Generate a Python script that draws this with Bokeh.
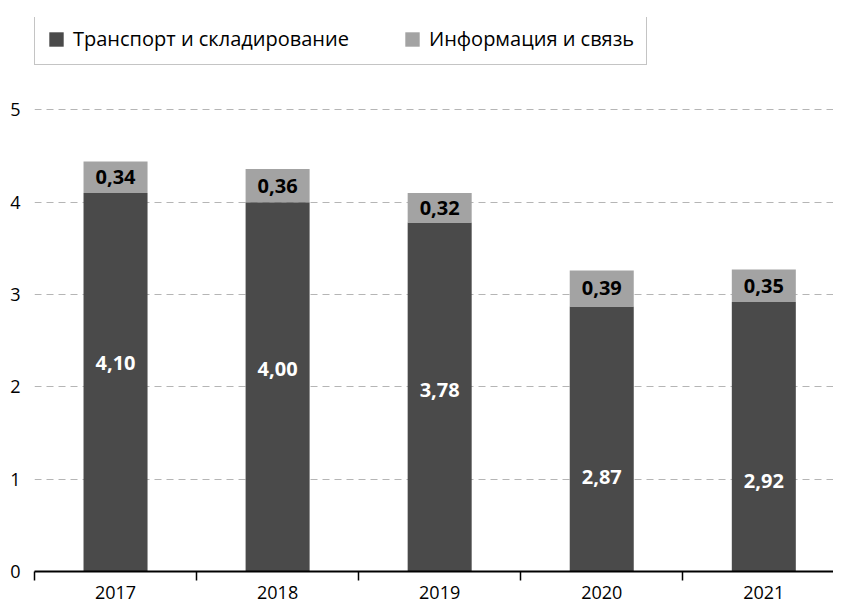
from bokeh.plotting import figure
from bokeh.models import ColumnDataSource, FixedTicker, Legend, LegendItem, Range1d
from bokeh.core.properties import value
from bokeh.embed import file_html
from bokeh.resources import INLINE

years = ["2017", "2018", "2019", "2020", "2021"]
transport = [4.10, 4.00, 3.78, 2.87, 2.92]
info = [0.34, 0.36, 0.32, 0.39, 0.35]
transport_labels = ["4,10", "4,00", "3,78", "2,87", "2,92"]
info_labels = ["0,34", "0,36", "0,32", "0,39", "0,35"]
# vertical placement of the labels inside the dark bars (data units)
transport_label_y = [2.26, 2.19, 1.97, 1.02, 0.98]

FONT = "Open Sans"
DARK = "#4a4a4a"
LIGHT = "#a3a3a3"

xs = list(range(1, len(years) + 1))
info_top = [t + i for t, i in zip(transport, info)]
info_mid = [t + i / 2 for t, i in zip(transport, info)]

src = ColumnDataSource(dict(
    x=xs, transport=transport, info_top=info_top, info_mid=info_mid,
    tl=transport_labels, il=info_labels, tly=transport_label_y,
))

p = figure(width=833, height=605, output_backend="svg", toolbar_location=None,
           x_range=Range1d(0.5, 5.43), y_range=Range1d(0, 6.0))
p.min_border_left = 34
p.min_border_right = 0
p.min_border_top = 17
p.min_border_bottom = 34
p.outline_line_color = None
p.background_fill_color = "white"

r1 = p.vbar(x="x", top="transport", bottom=0, width=0.395, source=src,
            fill_color=DARK, line_color=None)
r2 = p.vbar(x="x", top="info_top", bottom="transport", width=0.395, source=src,
            fill_color=LIGHT, line_color=None)

p.text(x="x", y="tly", text="tl", source=src, text_color="white",
       text_font=value(FONT), text_font_style="bold", text_font_size="20px",
       text_align="center", text_baseline="middle")
p.text(x="x", y="info_mid", text="il", source=src, text_color="black",
       text_font=value(FONT), text_font_style="bold", text_font_size="20px",
       text_align="center", text_baseline="middle")

# x axis
p.xaxis.ticker = FixedTicker(ticks=xs, minor_ticks=[x - 0.5 for x in xs])
p.xaxis.major_label_overrides = {x: y for x, y in zip(xs, years)}
p.xaxis.major_tick_line_color = None
p.xaxis.major_tick_out = 0
p.xaxis.major_tick_in = 0
p.xaxis.minor_tick_line_color = "black"
p.xaxis.minor_tick_out = 9
p.xaxis.minor_tick_in = 0
p.xaxis.minor_tick_line_width = 1.5
p.xaxis.axis_line_color = "black"
p.xaxis.axis_line_width = 2
p.xaxis.major_label_text_font = FONT
p.xaxis.major_label_text_font_size = "18px"
p.xaxis.major_label_text_color = "black"
p.xaxis.major_label_standoff = 5
p.xgrid.grid_line_color = None

# y axis
p.yaxis.ticker = FixedTicker(ticks=[0, 1, 2, 3, 4, 5])
p.yaxis.axis_line_color = None
p.yaxis.major_tick_line_color = None
p.yaxis.major_tick_out = 0
p.yaxis.major_tick_in = 0
p.yaxis.minor_tick_line_color = None
p.yaxis.major_label_text_font = FONT
p.yaxis.major_label_text_font_size = "18px"
p.yaxis.major_label_text_color = "black"
p.yaxis.major_label_standoff = 14
p.ygrid.grid_line_color = "#b5b5b5"
p.ygrid.grid_line_dash = "7 5"
p.ygrid.grid_line_width = 1

legend = Legend(items=[
    LegendItem(label="Транспорт и складирование", renderers=[r1]),
    LegendItem(label="Информация и связь", renderers=[r2]),
], orientation="horizontal", location=(0, 506))
legend.label_text_font = FONT
legend.label_text_font_size = "20px"
legend.label_text_color = "black"
legend.glyph_width = 18
legend.glyph_height = 18
legend.label_standoff = 8
legend.spacing = 54
legend.padding = 12
legend.margin = 0
legend.border_line_color = "#8a8a8a"
legend.border_line_width = 1
p.add_layout(legend, "center")

open("out.html", "w").write(file_html(p, INLINE))
